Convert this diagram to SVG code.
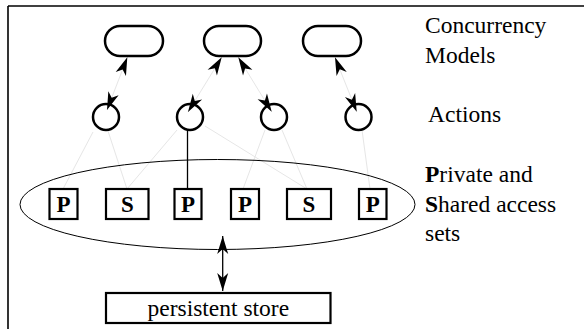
<svg xmlns="http://www.w3.org/2000/svg" width="584" height="329" viewBox="0 0 584 329">
<style>
.frame{stroke:#000;stroke-width:1.6;fill:none}
.model{fill:#fff;stroke:#000;stroke-width:2.5}
.action{fill:none;stroke:#000;stroke-width:2.5}
.set{fill:#fff;stroke:#000;stroke-width:2.2}
.faint{stroke:#e6e6e6;stroke-width:1;fill:none}
.solid{stroke:#000;stroke-width:1.3;fill:none}
.label{font-family:"Liberation Serif","Times New Roman",serif;font-size:23.5px;fill:#000}
.letter{font-family:"Liberation Serif","Times New Roman",serif;font-size:23px;font-weight:bold;fill:#000;text-anchor:middle}
</style>
<defs>
<marker id="ah" viewBox="-19 -6 21 12" markerWidth="21" markerHeight="12" refX="0" refY="0" orient="auto-start-reverse" markerUnits="userSpaceOnUse">
<path d="M0,0 L-18,-5.5 L-13,0 L-18,5.5 Z" fill="#000"/>
</marker>
</defs>
<g id="frame">
<line class="frame" x1="8" y1="6" x2="584" y2="6"/>
<line class="frame" x1="8" y1="6" x2="8" y2="329"/>
</g>
<g id="connectors">
<line class="faint" x1="93" y1="132" x2="63" y2="189"/>
<line class="faint" x1="108" y1="131" x2="127" y2="189"/>
<line class="faint" x1="177" y1="130" x2="127" y2="189"/>
<line class="faint" x1="205" y1="126" x2="307" y2="189"/>
<line class="faint" x1="265" y1="130" x2="243" y2="189"/>
<line class="faint" x1="282" y1="130" x2="307" y2="189"/>
<line class="faint" x1="362" y1="130" x2="370" y2="189"/>
<line class="solid" x1="187.5" y1="131" x2="187.5" y2="189"/>
<line class="faint" x1="107" y1="110" x2="127.3" y2="57.3" marker-start="url(#ah)" marker-end="url(#ah)"/>
<line class="faint" x1="188" y1="112" x2="221.7" y2="57.3" marker-start="url(#ah)" marker-end="url(#ah)"/>
<line class="faint" x1="271.7" y1="111.7" x2="238.3" y2="57.3" marker-start="url(#ah)" marker-end="url(#ah)"/>
<line class="faint" x1="356.7" y1="111.7" x2="335" y2="57.3" marker-start="url(#ah)" marker-end="url(#ah)"/>
<line class="solid" x1="222.7" y1="236" x2="222.7" y2="291" marker-start="url(#ah)" marker-end="url(#ah)"/>
</g>
<g id="model1"><rect class="model" x="105" y="26" width="58" height="30" rx="15"/></g>
<g id="model2"><rect class="model" x="204" y="26" width="57" height="30" rx="15"/></g>
<g id="model3"><rect class="model" x="303" y="26" width="58" height="30" rx="15"/></g>
<g id="action1"><circle class="action" cx="106" cy="117" r="13"/></g>
<g id="action2"><circle class="action" cx="190" cy="117" r="13"/></g>
<g id="action3"><circle class="action" cx="274" cy="117" r="13"/></g>
<g id="action4"><circle class="action" cx="358.5" cy="117" r="13"/></g>
<g id="sets"><ellipse cx="217.5" cy="204.5" rx="197.5" ry="45" fill="none" stroke="#000" stroke-width="1"/></g>
<g id="setP1"><rect class="set" x="49.5" y="189" width="28" height="30"/><text class="letter" x="63.5" y="211.5">P</text></g>
<g id="setS1"><rect class="set" x="106" y="189" width="42.5" height="30"/><text class="letter" x="127.3" y="211.5">S</text></g>
<g id="setP2"><rect class="set" x="174.5" y="189" width="27" height="30"/><text class="letter" x="188" y="211.5">P</text></g>
<g id="setP3"><rect class="set" x="231" y="189" width="28" height="30"/><text class="letter" x="245" y="211.5">P</text></g>
<g id="setS2"><rect class="set" x="287" y="189" width="44" height="30"/><text class="letter" x="309" y="211.5">S</text></g>
<g id="setP4"><rect class="set" x="359" y="189" width="27.5" height="30"/><text class="letter" x="372.7" y="211.5">P</text></g>
<g id="store"><rect class="set" x="106" y="293" width="224.5" height="30"/><text class="label" x="218.3" y="315.7" text-anchor="middle">persistent store</text></g>
<g id="legend">
<text class="label" x="425" y="33">Concurrency</text>
<text class="label" x="425" y="62.5">Models</text>
<text class="label" x="428" y="121.7">Actions</text>
<text class="label" x="425" y="181.7"><tspan font-weight="bold">P</tspan>rivate and</text>
<text class="label" x="425" y="211.5"><tspan font-weight="bold">S</tspan>hared access</text>
<text class="label" x="425" y="240.7">sets</text>
</g>
</svg>
